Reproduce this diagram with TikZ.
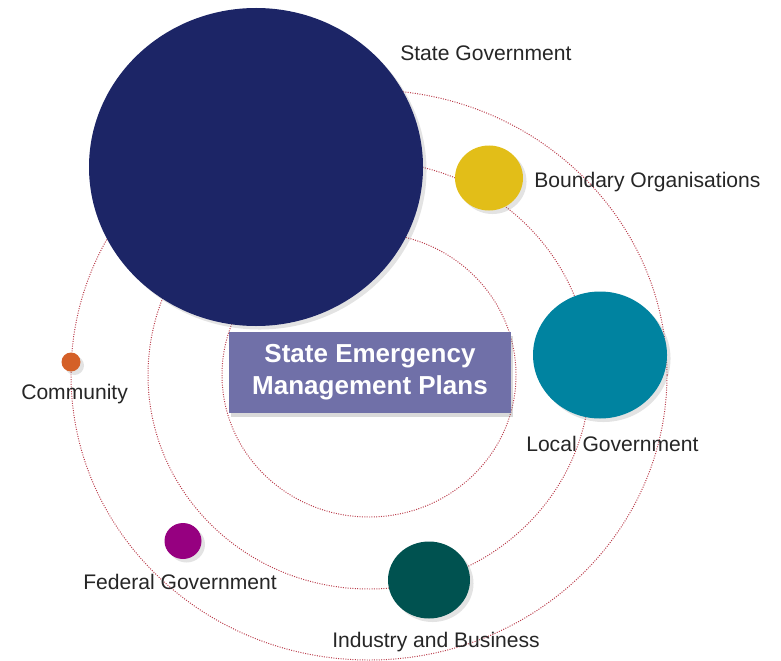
\documentclass[tikz,border=0pt]{standalone}
\usepackage{fontspec}
\setmainfont{Liberation Sans}
\usetikzlibrary{shapes,shadows,positioning}
\definecolor{stateblue}{RGB}{28,37,102}
\definecolor{boundaryyellow}{RGB}{226,190,24}
\definecolor{localteal}{RGB}{0,131,160}
\definecolor{industrygreen}{RGB}{0,82,80}
\definecolor{federalpurple}{RGB}{150,0,128}
\definecolor{communityorange}{RGB}{212,96,40}
\definecolor{planslate}{RGB}{112,112,168}
\definecolor{orbitred}{RGB}{186,60,75}
\definecolor{labelgray}{RGB}{38,38,38}

\tikzset{
    orbit/.style={draw=orbitred, densely dotted, line width=0.7pt},
    planet/.style={ellipse, inner sep=0pt, drop shadow={opacity=0.22, shadow xshift=2.5pt, shadow yshift=-2.5pt}},
    planetlabel/.style={anchor=base west, inner sep=0pt, text=labelgray, font=\fontsize{15}{18}\selectfont}
}

\begin{document}
\begin{tikzpicture}
    \useasboundingbox (0,0) rectangle (19.525,16.5);
    % orbits
    \coordinate (hub) at (9.225,7.125);
    \draw[orbit] (hub) ellipse [x radius=7.45cm, y radius=7.125cm];
    \draw[orbit] (hub) ellipse [x radius=5.525cm, y radius=5.35cm];
    \draw[orbit] (hub) ellipse [x radius=3.675cm, y radius=3.55cm];

    % planets
    \node[planet, fill=stateblue, minimum width=8.35cm, minimum height=7.95cm] (stategov) at (6.4,12.325) {};
    \node[planet, fill=boundaryyellow, minimum width=1.7cm, minimum height=1.625cm] (boundary) at (12.225,12.05) {};
    \node[planet, fill=localteal, minimum width=3.35cm, minimum height=3.175cm] (localgov) at (15.0,7.625) {};
    \node[planet, fill=industrygreen, minimum width=2.05cm, minimum height=1.925cm] (industry) at (10.725,2.0) {};
    \node[planet, fill=federalpurple, minimum width=0.925cm, minimum height=0.9cm] (federal) at (4.575,2.975) {};
    \node[planet, fill=communityorange, minimum width=0.475cm, minimum height=0.475cm] (community) at (1.775,7.45) {};

    % centre box
    \node[fill=planslate, minimum width=7.05cm, minimum height=2.025cm, text=white, align=center,
          font=\fontsize{18.5}{22.7}\selectfont\bfseries,
          drop shadow={opacity=0.3, shadow xshift=1.5pt, shadow yshift=-3pt}] (plans) at (9.25,7.1875)
        {State Emergency\\Management Plans};

    % labels
    \node[planetlabel] (stategovlabel) at (10.0,14.975) {State Government};
    \node[planetlabel] (boundarylabel) at (13.35,11.825) {Boundary Organisations};
    \node[planetlabel] (communitylabel) at (0.525,6.525) {Community};
    \node[planetlabel] (federallabel) at (2.075,1.775) {Federal Government};
    \node[planetlabel] (localgovlabel) at (13.15,5.225) {Local Government};
    \node[planetlabel] (industrylabel) at (8.3,0.325) {Industry and Business};
\end{tikzpicture}
\end{document}
